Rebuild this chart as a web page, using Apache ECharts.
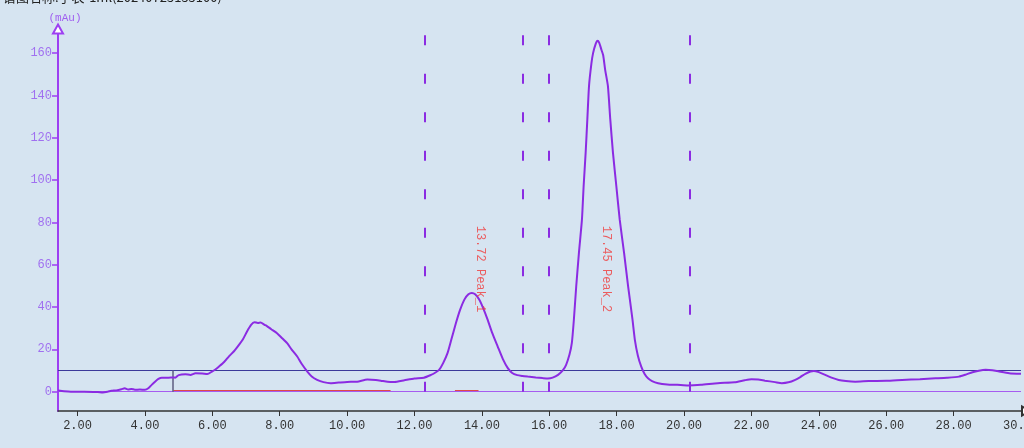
<!DOCTYPE html>
<html>
<head>
<meta charset="utf-8">
<script src="https://cdn.jsdelivr.net/npm/echarts@6/dist/echarts.min.js"></script>
<style>
  html, body { margin: 0; padding: 0; background: #d6e4f1; }
  #chromChart { width: 1024px; height: 448px; }
</style>
</head>
<body>
<div id="chromChart"></div>
<script>
// retention time (min) / signal (mAu)
const times = [1.42, 1.6, 1.8, 2.2, 2.6, 2.75, 2.9, 3.0, 3.15, 3.3, 3.4, 3.5, 3.6, 3.7, 3.85, 4.0, 4.1, 4.2, 4.3, 4.4,
  4.5, 4.7, 4.84, 4.9, 5.0, 5.2, 5.35, 5.5, 5.7, 5.85, 6.0, 6.1, 6.2, 6.35, 6.5, 6.65, 6.8, 6.9, 7.03, 7.15,
  7.25, 7.35, 7.43, 7.55, 7.62, 7.75, 7.92, 8.05, 8.22, 8.35, 8.52, 8.65, 8.82, 8.95, 9.11, 9.3, 9.51, 9.75, 10.0, 10.3,
  10.6, 10.85, 11.0, 11.2, 11.4, 11.7, 12.0, 12.28, 12.49, 12.6, 12.73, 12.85, 12.98, 13.1, 13.23, 13.35, 13.48, 13.6, 13.7, 13.8,
  13.92, 14.05, 14.17, 14.3, 14.47, 14.62, 14.77, 14.9, 15.05, 15.2, 15.36, 15.6, 15.8, 15.96, 16.1, 16.26, 16.4, 16.5, 16.6, 16.67,
  16.73, 16.8, 16.88, 16.97, 17.02, 17.08, 17.13, 17.18, 17.25, 17.3, 17.38, 17.43, 17.48, 17.55, 17.6, 17.66, 17.74, 17.81, 17.89, 17.99,
  18.09, 18.22, 18.34, 18.47, 18.54, 18.63, 18.73, 18.83, 18.93, 19.05, 19.23, 19.5, 19.8, 20.12, 20.5, 21.0, 21.5, 21.8, 22.0, 22.2,
  22.4, 22.7, 22.9, 23.1, 23.3, 23.45, 23.6, 23.75, 23.85, 24.0, 24.19, 24.4, 24.59, 24.8, 25.08, 25.48, 26.0, 26.47, 27.0, 27.46,
  27.8, 28.16, 28.35, 28.56, 28.75, 28.95, 29.15, 29.35, 29.65, 30.0]
const signal = [0.5, 0.2, 0.0, 0.0, -0.2, -0.4, 0.0, 0.4, 0.6, 1.1, 1.6, 1.0, 1.3, 0.9, 1.0, 0.9, 1.6, 3.2, 4.7, 6.0,
  6.6, 6.6, 6.7, 6.6, 7.8, 8.2, 7.9, 8.7, 8.6, 8.3, 9.6, 10.6, 11.9, 14.0, 16.8, 19.2, 22.3, 24.5, 28.4, 31.5,
  32.8, 32.5, 32.7, 31.6, 31.0, 29.5, 27.6, 25.6, 22.9, 20.0, 16.6, 13.2, 9.5, 7.2, 5.6, 4.5, 4.0, 4.3, 4.6, 4.7,
  5.7, 5.5, 5.2, 4.7, 4.6, 5.4, 6.2, 6.6, 7.9, 8.8, 10.3, 13.5, 18.2, 25.0, 32.4, 38.5, 43.5, 46.0, 46.6, 46.0,
  43.5, 39.0, 34.0, 28.0, 21.3, 15.5, 11.1, 8.8, 7.8, 7.4, 7.1, 6.7, 6.4, 6.2, 6.6, 7.9, 10.0, 12.7, 17.5, 23.0,
  34.0, 49.8, 65.6, 81.4, 97.2, 113, 128.8, 144.5, 155, 160, 164.5, 165.8, 165, 161.5, 159, 152, 144.5, 128.8, 113, 97.2,
  81.4, 65.6, 49.8, 34.0, 24.5, 17.0, 11.8, 8.3, 6.3, 5.0, 4.0, 3.4, 3.2, 2.9, 3.2, 4.0, 4.4, 5.4, 5.9, 5.7,
  5.2, 4.5, 4.0, 4.4, 5.6, 6.9, 8.4, 9.5, 9.8, 9.2, 7.9, 6.5, 5.5, 5.0, 4.7, 5.0, 5.1, 5.5, 5.9, 6.3,
  6.6, 7.1, 8.0, 9.2, 9.9, 10.3, 10.1, 9.5, 8.7, 8.4]

// peaks: name / retention time, integration start + end
const peakNames = ['Peak_1', 'Peak_2']
const peakTimes = [13.72, 17.45]
const peakBounds = [12.31, 15.22, 15.97, 20.16]
// integrated baseline segments [start, end]
const baseSegs = [[4.84, 11.29], [13.2, 13.9]]
const baseLevel = 0.5
const thresholdLevel = 10
const markerTime = 4.84

const xTicks = [2, 4, 6, 8, 10, 12, 14, 16, 18, 20, 22, 24, 26, 28, 30]
const yTicks = [0, 20, 40, 60, 80, 100, 120, 140, 160]

let chart = echarts.init(document.getElementById('chromChart'))

let traceData = times.map((t, i) => [t, signal[i]])
let baseSeries = baseSegs.map(seg => ({
  type: 'line',
  data: [[seg[0], baseLevel], [seg[1], baseLevel]],
  symbol: 'none',
  silent: true,
  lineStyle: { color: '#e04848', width: 1.2 },
  z: 3
}))

let monoFont = '"Liberation Mono", "DejaVu Sans Mono", monospace'

let option = {
  backgroundColor: '#d6e4f1',
  animation: false,
  graphic: [
    {
      type: 'text',
      left: 3,
      top: -9,
      style: {
        text: '谱图名称:手表-1ml(20240725155100)',
        fill: '#222',
        font: '13px "Noto Sans CJK SC", "Liberation Mono", monospace'
      }
    }
  ],
  grid: {
    left: 58,
    right: 3,
    top: 29,
    bottom: 37,
    outerBoundsMode: 'none'
  },
  xAxis: {
    type: 'value',
    min: 1.42,
    max: 30,
    splitLine: { show: false },
    axisLine: {
      onZero: false,
      lineStyle: { color: '#333', width: 1.5 },
      symbol: ['none', 'emptyTriangle'],
      symbolSize: [9, 8],
      symbolOffset: [0, 5]
    },
    axisTick: { customValues: xTicks, length: 5, lineStyle: { color: '#333' } },
    axisLabel: {
      customValues: xTicks,
      color: '#333',
      fontFamily: monoFont,
      fontSize: 12,
      margin: 9,
      formatter: v => v.toFixed(2)
    }
  },
  yAxis: {
    type: 'value',
    min: -9.15,
    max: 171.4,
    name: '(mAu)',
    nameGap: 5,
    nameTextStyle: { color: '#a060f0', fontFamily: monoFont, fontSize: 11, padding: [0, 0, 0, 14] },
    splitLine: { show: false },
    axisLine: {
      onZero: false,
      lineStyle: { color: '#9d3ff2', width: 2 },
      symbol: ['none', 'emptyTriangle'],
      symbolSize: [10, 9]
    },
    axisTick: { customValues: yTicks, length: 6, lineStyle: { color: '#9d3ff2', width: 1.5 } },
    axisLabel: {
      customValues: yTicks,
      color: '#a070f0',
      fontFamily: monoFont,
      fontSize: 12,
      margin: 6
    }
  },
  series: [
    {
      name: 'signal',
      type: 'line',
      data: traceData,
      symbol: 'none',
      smooth: 0.2,
      lineStyle: { color: '#8b2be2', width: 2 },
      z: 5,
      markLine: {
        silent: true,
        symbol: 'none',
        label: { show: false },
        data: [
          { yAxis: thresholdLevel, lineStyle: { color: '#3c3a9a', width: 1.2, type: 'solid' } },
          { yAxis: 0, lineStyle: { color: '#a65cf0', width: 1.2, type: 'solid' } },
          [
            { coord: [markerTime, 0], lineStyle: { color: '#5e5e80', width: 1.5, type: 'solid' } },
            { coord: [markerTime, thresholdLevel] }
          ]
        ].concat(peakBounds.map(t => [
          { coord: [t, 0], lineStyle: { color: '#8b2be2', width: 2, type: [10, 28.5] } },
          { coord: [t, 170] }
        ]))
      }
    }
  ].concat(baseSeries).concat([
    {
      name: 'peaks',
      type: 'scatter',
      symbolSize: 0,
      silent: true,
      data: peakTimes.map((t, i) => ({ value: [t, 58], name: peakNames[i] })),
      label: {
        show: true,
        position: 'inside',
        rotate: -90,
        offset: [0, -8],
        color: '#f03a3a',
        fontFamily: monoFont,
        fontSize: 12,
        formatter: p => p.value[0].toFixed(2) + ' ' + p.name
      },
      z: 6
    }
  ])
}

// 绘制谱图
chart.setOption(option)
</script>
</body>
</html>
